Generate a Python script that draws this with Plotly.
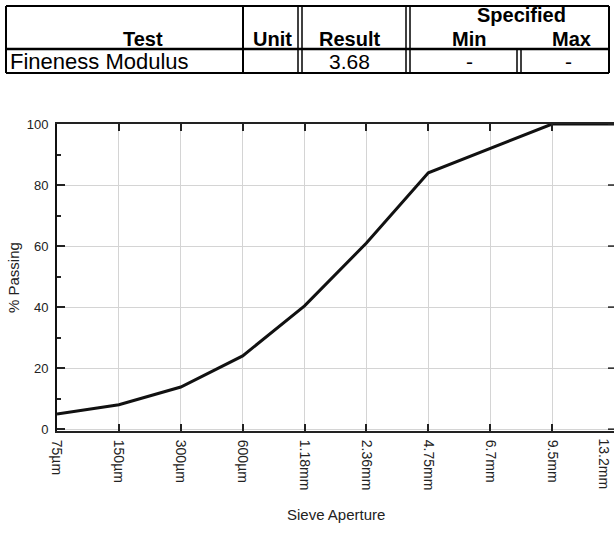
import plotly.graph_objects as go

# ---------------- data ----------------
sieves = ["75µm", "150µm", "300µm", "600µm", "1.18mm", "2.36mm",
          "4.75mm", "6.7mm", "9.5mm", "13.2mm"]
passing = [5.0, 8.0, 13.8, 24.0, 40.4, 61.0, 84.0, 92.0, 100.0, 100.0]
y_ticks = [0, 20, 40, 60, 80, 100]

table_header = ["Test", "Unit", "Result", "Min", "Max"]
table_group = "Specified"
table_row = ["Fineness Modulus", "", "3.68", "-", "-"]

# ---------------- layout helpers ----------------
W, H = 614, 539
PL, PR, PT, PB = 57, 614, 124, 431
FONT = "Liberation Sans, Arial, sans-serif"
Y_RANGE = [-0.6, 100]


def px(x):
    return (x - PL) / (PR - PL)


def py(y):
    return (PB - y) / (PB - PT)


fig = go.Figure()
xs = list(range(len(sieves)))
fig.add_trace(go.Scatter(
    x=xs, y=passing, mode="lines",
    line=dict(color="#111111", width=3),
    cliponaxis=False, hoverinfo="skip", showlegend=False,
))

shapes = []
annotations = []


def hline(x0, x1, y, w=2):
    shapes.append(dict(type="line", xref="paper", yref="paper",
                       x0=px(x0), x1=px(x1), y0=py(y), y1=py(y),
                       line=dict(color="black", width=w)))


def vline(x, y0, y1, w=2):
    shapes.append(dict(type="line", xref="paper", yref="paper",
                       x0=px(x), x1=px(x), y0=py(y0), y1=py(y1),
                       line=dict(color="black", width=w)))


def text(t, x, y, size, bold=False, anchor="center"):
    annotations.append(dict(
        text=f"<b>{t}</b>" if bold else t, xref="paper", yref="paper",
        x=px(x), y=py(y), xanchor=anchor, yanchor="middle", showarrow=False,
        font=dict(family=FONT, size=size, color="black")))


# table geometry
TL, TR = 6, 609
TT, TM, TB = 6, 49, 73
D1, D2, D3, D4 = 243, 300, 408, 519

hline(TL, TR, TT)
hline(TL, TR, TB)
hline(TL, TR, TM, 2.5)
vline(TL, TT, TB)
vline(TR, TT, TB)
vline(D1, TT, TB, 2)
vline(D2 - 2, TT, TB, 1.5)
vline(D2 + 2, TT, TB, 1.5)
vline(D3 - 2, TT, TB, 1.5)
vline(D3 + 2, TT, TB, 1.5)
vline(D4 - 2, TM, TB, 1.5)
vline(D4 + 2, TM, TB, 1.5)

hdr_x = [143, 272, 349, 469, 571]
row_x = [8, 272, 349, 469, 568]
for i, t in enumerate(table_header):
    text(t, hdr_x[i], 39, 20, bold=True)
text(table_group, 521, 15, 20, bold=True)
for i, t in enumerate(table_row):
    if i == 0:
        text(t, row_x[i], 62, 22, anchor="left")
    elif t:
        text(t, row_x[i], 62, 21)

# right-hand inward ticks (no right axis line in the reference)
for v in y_ticks:
    shapes.append(dict(type="line", xref="paper", yref="y",
                       x0=1 - 6 / (PR - PL), x1=1, y0=v, y1=v,
                       line=dict(color="#222", width=1.5)))

# last sieve label sits on the right edge; keep it inside the page
annotations.append(dict(text=sieves[-1], xref="x", x=xs[-1], yref="paper", y=py(436),
                        xanchor="right", yanchor="top", textangle=90, showarrow=False,
                        font=dict(family=FONT, size=14, color="#222")))

# axis titles
annotations.append(dict(text="Sieve Aperture", xref="paper", yref="paper",
                        x=px(336), y=py(514), xanchor="center", yanchor="middle",
                        showarrow=False, font=dict(family=FONT, size=15, color="#222")))
annotations.append(dict(text="% Passing", xref="paper", yref="paper",
                        x=px(13), y=py(278), xanchor="center", yanchor="middle",
                        textangle=-90, showarrow=False,
                        font=dict(family=FONT, size=15, color="#222")))

fig.update_layout(
    width=W, height=H, autosize=False,
    margin=dict(l=PL, r=W - PR, t=PT, b=H - PB, pad=0),
    paper_bgcolor="white", plot_bgcolor="white",
    shapes=shapes, annotations=annotations,
    font=dict(family=FONT, color="#222"),
    xaxis=dict(
        range=[0, len(sieves) - 1], tickvals=xs[:-1], ticktext=sieves[:-1],
        tickangle=90, tickfont=dict(size=14, color="#222", family=FONT),
        ticks="inside", ticklen=7, tickwidth=1.5, tickcolor="#222",
        ticklabelstandoff=4,
        showgrid=True, gridcolor="#d4d4d4", gridwidth=1,
        showline=True, linecolor="#222", linewidth=2, mirror="ticks",
        zeroline=False, fixedrange=True,
    ),
    yaxis=dict(
        range=Y_RANGE, tickvals=y_ticks,
        tickfont=dict(size=13, color="#222", family=FONT),
        ticks="inside", ticklen=8, tickwidth=1.5, tickcolor="#222",
        minor=dict(ticks="inside", ticklen=4, dtick=10, tickcolor="#222", showgrid=False),
        showgrid=True, gridcolor="#d4d4d4", gridwidth=1,
        showline=True, linecolor="#111", linewidth=2, mirror=False,
        zeroline=False, ticklabelstandoff=4, fixedrange=True,
    ),
)

post = "document.body.style.margin='0';document.body.style.overflow='hidden';"
fig.write_html("out.html", config={"displayModeBar": False}, post_script=post)
